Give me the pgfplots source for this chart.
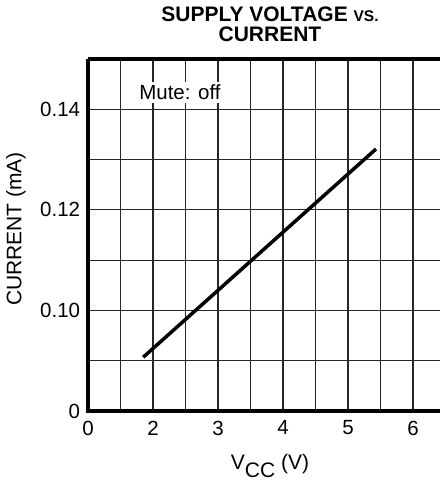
\documentclass[border=0pt]{standalone}
\usepackage{fontspec}
\setmainfont{Liberation Sans}
\usepackage{pgfplots}
\pgfplotsset{compat=1.18}
\begin{document}
\fontsize{20}{22}\selectfont
\begin{tikzpicture}
\useasboundingbox (0pt,0pt) rectangle (440pt,481pt);
\begin{axis}[
  at={(88pt,70pt)}, anchor=south west,
  width=352pt, height=352pt, scale only axis,
  xmin=1, xmax=6.415, ymin=0.08, ymax=0.15,
  xtick={1,2,3,4,5,6}, xticklabels={0,2,3,4,5,6},
  ytick={0.08,0.10,0.12,0.14}, yticklabels={0,0.10,0.12,0.14},
  minor xtick={1.5,2.5,3.5,4.5,5.5,6},
  minor ytick={0.09,0.11,0.13},
  grid=both,
  major grid style={black!85, line width=1.1pt},
  minor grid style={black!85, line width=1.1pt},
  major tick length=0pt, minor tick length=0pt,
  axis line style={draw=none},
  ticklabel style={font=\fontsize{20.5}{22}\selectfont},
  xticklabel style={yshift=-3pt},
  yticklabel style={xshift=-1pt},
  /pgf/number format/assume math mode=true,
  clip=false,
]
\addplot[black, line width=3.5pt] coordinates {(1.85,0.0907) (5.43,0.1321)};
\node[anchor=west, fill=white, inner sep=3pt, font=\fontsize{20.5}{22}\selectfont] at (axis cs:1.74,0.1434) {Mute: off};
\draw[line width=3.5pt] (rel axis cs:0,1) -- (rel axis cs:0,0) -- (rel axis cs:1,0);
\draw[line width=3.5pt] (rel axis cs:0,1) -- (rel axis cs:1,1);
\end{axis}
\node[align=center, font=\bfseries\fontsize{21}{20}\selectfont] at (270pt,457pt) {SUPPLY VOLTAGE {\fontsize{15.5}{15}\selectfont VS.}\\CURRENT};
\node[font=\fontsize{21}{22}\selectfont] at (270pt,15pt) {V\raisebox{-0.35em}{CC} (V)};
\node[rotate=90, font=\fontsize{21}{22}\selectfont] at (16pt,252pt) {CURRENT (mA)};
\end{tikzpicture}
\end{document}
